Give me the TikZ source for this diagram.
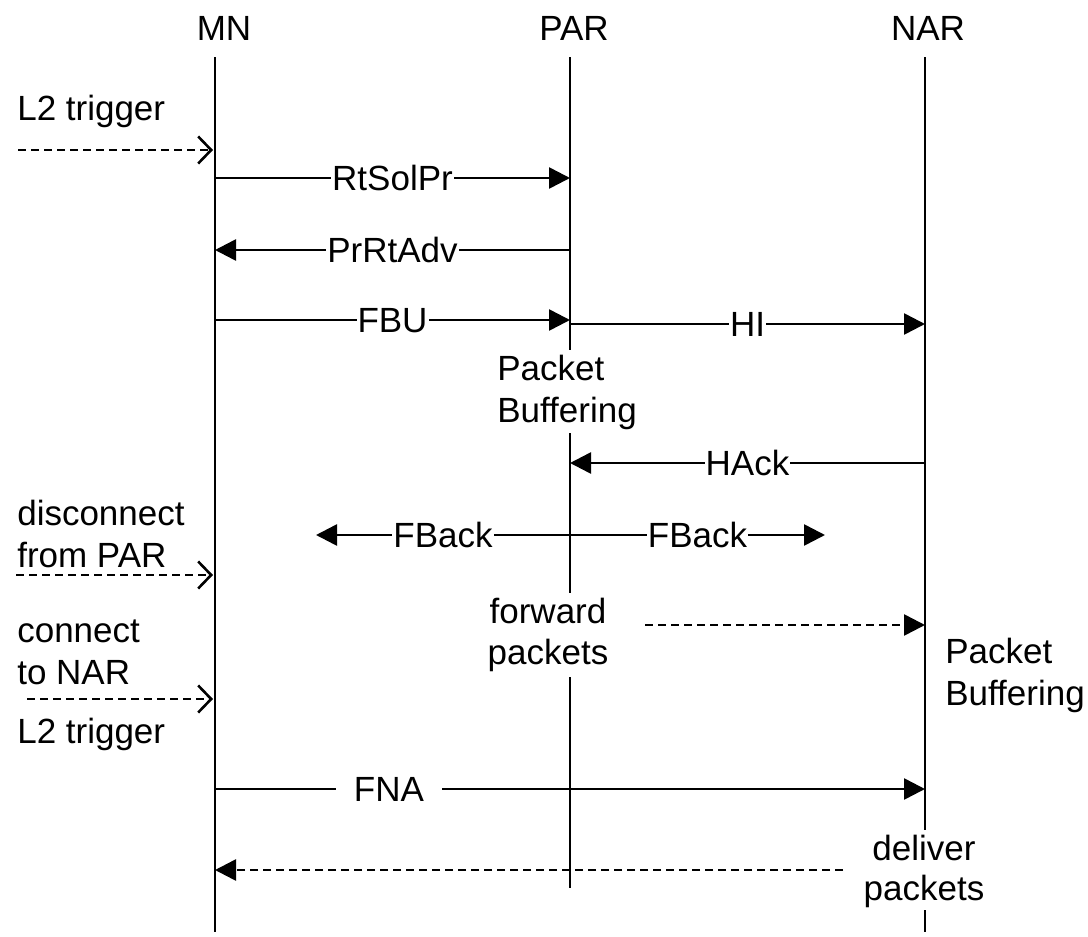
\documentclass[tikz,border=0pt]{standalone}
\usepackage{fontspec}
\setmainfont{Liberation Sans}
\usetikzlibrary{arrows.meta}
\begin{document}
\begin{tikzpicture}[x=1pt,y=-1pt, line width=2.6pt,
  every node/.style={font=\fontsize{35}{42}\selectfont, inner sep=0pt},
  msg/.style={-{Triangle[length=21pt,width=21pt]}},
  dmsg/.style={msg, dash pattern=on 8pt off 5pt},
  trig/.style={-{Straight Barb[length=13pt,width=27pt,line width=2.6pt]}, dash pattern=on 8pt off 5pt},
  lbl/.style={fill=white, inner xsep=1pt, inner ysep=0pt, text height=25pt, text depth=0pt},
  txt/.style={anchor=base west},
  ctxt/.style={anchor=base},
]
\useasboundingbox (0,0) rectangle (1088,937);

% headers
\node[ctxt] (mn) at (224,40) {MN};
\node[ctxt] (par) at (574,40) {PAR};
\node[ctxt] (nar) at (928,40) {NAR};

% lifelines
\coordinate (mnT) at (215,57);  \coordinate (mnB) at (215,932);
\coordinate (parT) at (570,57); \coordinate (parA) at (570,350);
\coordinate (parB) at (570,433); \coordinate (parC) at (570,593);
\coordinate (parD) at (570,677); \coordinate (parE) at (570,888);
\coordinate (narT) at (925,57); \coordinate (narA) at (925,830);
\coordinate (narB) at (925,910); \coordinate (narE) at (925,932);
\draw (mnT) -- (mnB);
\draw (parT) -- (parA) (parB) -- (parC) (parD) -- (parE);
\draw (narT) -- (narA) (narB) -- (narE);

% left side triggers
\node[txt] (l2a) at (16,120) {L2 trigger};
\coordinate (t1s) at (18,150); \coordinate (t1e) at (213,150);
\draw[trig] (t1s) -- (t1e);

\node[txt] (disc1) at (16,525) {disconnect};
\node[txt] (disc2) at (16,567) {from PAR};
\coordinate (t2s) at (16,575); \coordinate (t2e) at (213,575);
\draw[trig] (t2s) -- (t2e);

\node[txt] (con1) at (16,642) {connect};
\node[txt] (con2) at (16,684) {to NAR};
\coordinate (t3s) at (27,699); \coordinate (t3e) at (213,699);
\draw[trig] (t3s) -- (t3e);
\node[txt] (l2b) at (16,743) {L2 trigger};

% messages
\coordinate (mn1) at (215,178); \coordinate (par1) at (570,178);
\draw[msg] (mn1) -- node[lbl] {RtSolPr} (par1);

\coordinate (mn2) at (215,250); \coordinate (par2) at (570,250);
\draw[msg] (par2) -- node[lbl] {PrRtAdv} (mn2);

\coordinate (mn3) at (215,320); \coordinate (par3) at (570,320);
\draw[msg] (mn3) -- node[lbl] {FBU} (par3);

\coordinate (par4) at (570,324); \coordinate (nar4) at (925,324);
\draw[msg] (par4) -- node[lbl] {HI} (nar4);

\node[txt] (pb1) at (496,380) {Packet};
\node[txt] (pb2) at (496,422) {Buffering};

\coordinate (par5) at (570,463); \coordinate (nar5) at (925,463);
\draw[msg] (nar5) -- node[lbl] {HAck} (par5);

\coordinate (par6) at (570,535); \coordinate (fbl) at (316,535); \coordinate (fbr) at (825,535);
\draw[msg] (par6) -- node[lbl] {FBack} (fbl);
\draw[msg] (par6) -- node[lbl] {FBack} (fbr);

\node[ctxt] (fw1) at (548,623) {forward};
\node[ctxt] (fw2) at (548,664) {packets};
\coordinate (fws) at (645,625); \coordinate (nar7) at (925,625);
\draw[dmsg] (fws) -- (nar7);

\node[txt] (npb1) at (944,663) {Packet};
\node[txt] (npb2) at (944,705) {Buffering};

\coordinate (mn8) at (215,789); \coordinate (nar8) at (925,789);
\draw[msg] (mn8) -- node[pos=0.245, fill=white, inner xsep=18pt, inner ysep=0pt, text height=25pt, text depth=0pt] {FNA} (nar8);

\node[ctxt] (dl1) at (924,860) {deliver};
\node[ctxt] (dl2) at (924,900) {packets};
\coordinate (dls) at (843,870); \coordinate (mn9) at (215,870);
\draw[dmsg] (dls) -- (mn9);

\end{tikzpicture}
\end{document}
